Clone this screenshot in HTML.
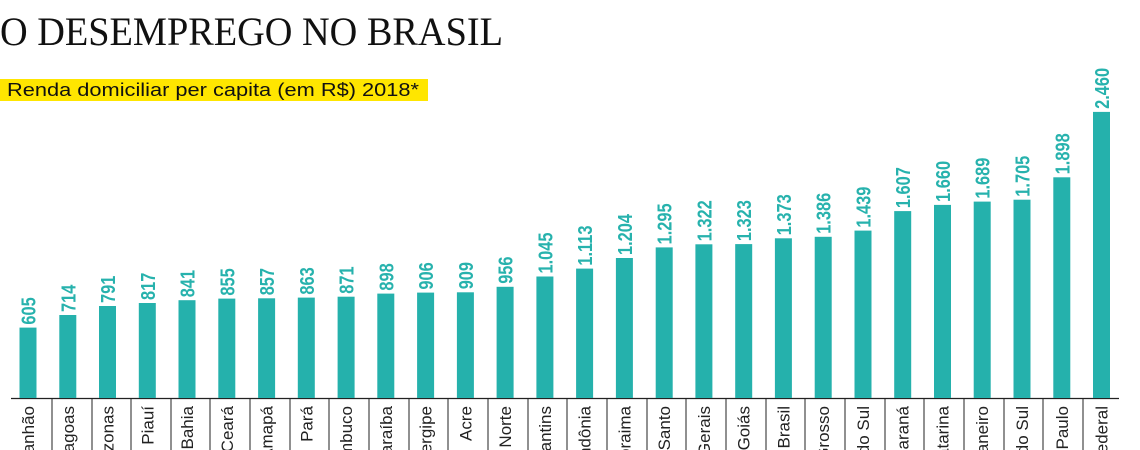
<!DOCTYPE html>
<html><head><meta charset="utf-8"><style>
html,body{margin:0;padding:0;background:#fff;width:1140px;height:450px;overflow:hidden}
svg{display:block;overflow:hidden}
.v{font-family:"Liberation Sans Narrow","Liberation Sans",sans-serif;font-weight:bold;font-size:20px;fill:#27b2ad}
.c{font-family:"Liberation Sans",sans-serif;font-size:17px;fill:#222;text-anchor:end}
rect.b{fill:#25b1ac}
</style></head><body>
<svg width="1140" height="450" viewBox="0 0 1140 450" xmlns="http://www.w3.org/2000/svg">
<defs><clipPath id="cp"><rect x="0" y="0" width="1140" height="450"/></clipPath></defs>
<g clip-path="url(#cp)">
<text x="0" y="45" font-family="Liberation Serif,serif" font-size="40" fill="#111" textLength="503" lengthAdjust="spacingAndGlyphs">O DESEMPREGO NO BRASIL</text>
<rect x="0" y="79" width="428" height="22" fill="#ffe600"/>
<text x="7" y="96" font-family="Liberation Sans Narrow,Liberation Sans,sans-serif" font-size="18" fill="#111" textLength="412" lengthAdjust="spacingAndGlyphs">Renda domiciliar per capita (em R$) 2018*</text>
<line x1="11" y1="398.5" x2="1119" y2="398.5" stroke="#222" stroke-width="1.3"/>
<g stroke="#222" stroke-width="1">
<line x1="52" y1="398" x2="52" y2="450"/><line x1="92" y1="398" x2="92" y2="450"/><line x1="131" y1="398" x2="131" y2="450"/><line x1="171" y1="398" x2="171" y2="450"/><line x1="210" y1="398" x2="210" y2="450"/><line x1="250" y1="398" x2="250" y2="450"/><line x1="290" y1="398" x2="290" y2="450"/><line x1="329" y1="398" x2="329" y2="450"/><line x1="369" y1="398" x2="369" y2="450"/><line x1="409" y1="398" x2="409" y2="450"/><line x1="448" y1="398" x2="448" y2="450"/><line x1="488" y1="398" x2="488" y2="450"/><line x1="528" y1="398" x2="528" y2="450"/><line x1="567" y1="398" x2="567" y2="450"/><line x1="607" y1="398" x2="607" y2="450"/><line x1="647" y1="398" x2="647" y2="450"/><line x1="686" y1="398" x2="686" y2="450"/><line x1="726" y1="398" x2="726" y2="450"/><line x1="766" y1="398" x2="766" y2="450"/><line x1="805" y1="398" x2="805" y2="450"/><line x1="845" y1="398" x2="845" y2="450"/><line x1="885" y1="398" x2="885" y2="450"/><line x1="924" y1="398" x2="924" y2="450"/><line x1="964" y1="398" x2="964" y2="450"/><line x1="1004" y1="398" x2="1004" y2="450"/><line x1="1043" y1="398" x2="1043" y2="450"/><line x1="1083" y1="398" x2="1083" y2="450"/>
</g>
<g>
<rect class="b" x="19.5" y="327.6" width="17" height="70.4"/>
<rect class="b" x="59.3" y="315" width="17" height="83"/>
<rect class="b" x="99" y="306" width="17" height="92"/>
<rect class="b" x="138.8" y="303" width="17" height="95"/>
<rect class="b" x="178.5" y="300.2" width="17" height="97.8"/>
<rect class="b" x="218.3" y="298.6" width="17" height="99.4"/>
<rect class="b" x="258.1" y="298.3" width="17" height="99.7"/>
<rect class="b" x="297.8" y="297.6" width="17" height="100.4"/>
<rect class="b" x="337.6" y="296.7" width="17" height="101.3"/>
<rect class="b" x="377.3" y="293.6" width="17" height="104.4"/>
<rect class="b" x="417.1" y="292.6" width="17" height="105.4"/>
<rect class="b" x="456.9" y="292.3" width="17" height="105.7"/>
<rect class="b" x="496.6" y="286.8" width="17" height="111.2"/>
<rect class="b" x="536.4" y="276.5" width="17" height="121.5"/>
<rect class="b" x="576.1" y="268.6" width="17" height="129.4"/>
<rect class="b" x="615.9" y="258" width="17" height="140"/>
<rect class="b" x="655.7" y="247.4" width="17" height="150.6"/>
<rect class="b" x="695.4" y="244.3" width="17" height="153.7"/>
<rect class="b" x="735.2" y="244.1" width="17" height="153.9"/>
<rect class="b" x="774.9" y="238.3" width="17" height="159.7"/>
<rect class="b" x="814.7" y="236.8" width="17" height="161.2"/>
<rect class="b" x="854.5" y="230.6" width="17" height="167.4"/>
<rect class="b" x="894.2" y="211.1" width="17" height="186.9"/>
<rect class="b" x="934" y="204.9" width="17" height="193.1"/>
<rect class="b" x="973.7" y="201.6" width="17" height="196.4"/>
<rect class="b" x="1013.5" y="199.7" width="17" height="198.3"/>
<rect class="b" x="1053.3" y="177.3" width="17" height="220.7"/>
<rect class="b" x="1093" y="111.9" width="17" height="286.1"/>
</g>
<g class="v">
<text transform="translate(35.5,324.6) rotate(-90) scale(0.82,1)">605</text>
<text transform="translate(75.3,312) rotate(-90) scale(0.82,1)">714</text>
<text transform="translate(115,303) rotate(-90) scale(0.82,1)">791</text>
<text transform="translate(154.8,300) rotate(-90) scale(0.82,1)">817</text>
<text transform="translate(194.5,297.2) rotate(-90) scale(0.82,1)">841</text>
<text transform="translate(234.3,295.6) rotate(-90) scale(0.82,1)">855</text>
<text transform="translate(274.1,295.3) rotate(-90) scale(0.82,1)">857</text>
<text transform="translate(313.8,294.6) rotate(-90) scale(0.82,1)">863</text>
<text transform="translate(353.6,293.7) rotate(-90) scale(0.82,1)">871</text>
<text transform="translate(393.3,290.6) rotate(-90) scale(0.82,1)">898</text>
<text transform="translate(433.1,289.6) rotate(-90) scale(0.82,1)">906</text>
<text transform="translate(472.9,289.3) rotate(-90) scale(0.82,1)">909</text>
<text transform="translate(512.6,283.8) rotate(-90) scale(0.82,1)">956</text>
<text transform="translate(552.4,273.5) rotate(-90) scale(0.82,1)">1.045</text>
<text transform="translate(592.1,265.6) rotate(-90) scale(0.82,1)">1.113</text>
<text transform="translate(631.9,255) rotate(-90) scale(0.82,1)">1.204</text>
<text transform="translate(671.7,244.4) rotate(-90) scale(0.82,1)">1.295</text>
<text transform="translate(711.4,241.3) rotate(-90) scale(0.82,1)">1.322</text>
<text transform="translate(751.2,241.1) rotate(-90) scale(0.82,1)">1.323</text>
<text transform="translate(790.9,235.3) rotate(-90) scale(0.82,1)">1.373</text>
<text transform="translate(830.7,233.8) rotate(-90) scale(0.82,1)">1.386</text>
<text transform="translate(870.5,227.6) rotate(-90) scale(0.82,1)">1.439</text>
<text transform="translate(910.2,208.1) rotate(-90) scale(0.82,1)">1.607</text>
<text transform="translate(950,201.9) rotate(-90) scale(0.82,1)">1.660</text>
<text transform="translate(989.7,198.6) rotate(-90) scale(0.82,1)">1.689</text>
<text transform="translate(1029.5,196.7) rotate(-90) scale(0.82,1)">1.705</text>
<text transform="translate(1069.3,174.3) rotate(-90) scale(0.82,1)">1.898</text>
<text transform="translate(1109,108.9) rotate(-90) scale(0.82,1)">2.460</text>
</g>
<g class="c">
<text transform="translate(34,406) rotate(-90)">Maranhão</text>
<text transform="translate(73.8,406) rotate(-90)">Alagoas</text>
<text transform="translate(113.5,406) rotate(-90)">Amazonas</text>
<text transform="translate(153.3,406) rotate(-90)">Piauí</text>
<text transform="translate(193,406) rotate(-90)">Bahia</text>
<text transform="translate(232.8,406) rotate(-90)">Ceará</text>
<text transform="translate(272.6,406) rotate(-90)">Amapá</text>
<text transform="translate(312.3,406) rotate(-90)">Pará</text>
<text transform="translate(352.1,406) rotate(-90)">Pernambuco</text>
<text transform="translate(391.8,406) rotate(-90)">Paraíba</text>
<text transform="translate(431.6,406) rotate(-90)">Sergipe</text>
<text transform="translate(471.4,406) rotate(-90)">Acre</text>
<text transform="translate(511.1,406) rotate(-90)">Rio Grande do Norte</text>
<text transform="translate(550.9,406) rotate(-90)">Tocantins</text>
<text transform="translate(590.6,406) rotate(-90)">Rondônia</text>
<text transform="translate(630.4,406) rotate(-90)">Roraima</text>
<text transform="translate(670.2,406) rotate(-90)">Espírito Santo</text>
<text transform="translate(709.9,406) rotate(-90)">Minas Gerais</text>
<text transform="translate(749.7,406) rotate(-90)">Goiás</text>
<text transform="translate(789.4,406) rotate(-90)">Brasil</text>
<text transform="translate(829.2,406) rotate(-90)">Mato Grosso</text>
<text transform="translate(869,406) rotate(-90)">Mato Grosso do Sul</text>
<text transform="translate(908.7,406) rotate(-90)">Paraná</text>
<text transform="translate(948.5,406) rotate(-90)">Santa Catarina</text>
<text transform="translate(988.2,406) rotate(-90)">Rio de Janeiro</text>
<text transform="translate(1028,406) rotate(-90)">Rio Grande do Sul</text>
<text transform="translate(1067.8,406) rotate(-90)">São Paulo</text>
<text transform="translate(1107.5,406) rotate(-90)">Distrito Federal</text>
</g>
</g>
</svg>
</body></html>
